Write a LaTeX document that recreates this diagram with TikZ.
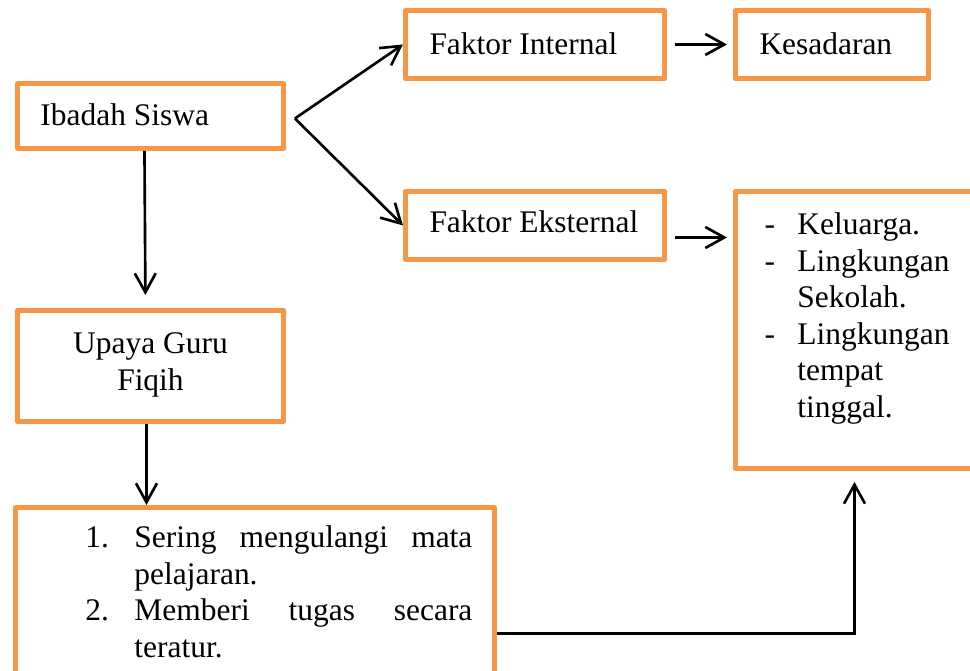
\documentclass[tikz,border=0pt]{standalone}
\usepackage{fontspec}
\setmainfont{Liberation Serif}
\usetikzlibrary{arrows.meta}
\definecolor{oranye}{HTML}{F79646}

\begin{document}
\begin{tikzpicture}[x=0.02cm, y=-0.02cm,
  kotak/.style={draw=oranye, line width=0.1cm, line join=round, anchor=north west,
    inner ysep=0pt, font=\fontsize{17.9}{20.8}\selectfont},
  panah/.style={line width=1.5pt, -{Straight Barb[length=3.8mm,width=4.2mm]}}]
  \useasboundingbox (0,0) rectangle (970,671);
  \clip (0,0) rectangle (970,671);
  \node[kotak, inner xsep=0.46cm, text width=4.4cm, align=flush left, text height=0.84cm, text depth=0.46cm] (ibadah) at (15,81) {Ibadah Siswa};
  \node[kotak, inner xsep=0.48cm, text width=4.22cm, align=flush left, text height=0.88cm, text depth=0.48cm] (internal) at (403,8) {Faktor Internal};
  \node[kotak, inner xsep=0.48cm, text width=2.9cm, align=flush left, text height=0.88cm, text depth=0.48cm] (kesadaran) at (733,8) {Kesadaran};
  \node[kotak, inner xsep=0.48cm, text width=4.22cm, align=flush left, text height=0.82cm, text depth=0.54cm] (eksternal) at (403,189) {Faktor~Eksternal};
  \node[kotak, inner xsep=0.58cm, text width=4.38cm, align=flush left, text height=0.86cm, text depth=4.68cm] (faktor) at (733,189)
    {\makebox[0.66cm][l]{-}Keluarga.\\
     \makebox[0.66cm][l]{-}Lingkungan\\
     \hspace*{0.66cm}Sekolah.\\
     \makebox[0.66cm][l]{-}Lingkungan\\
     \hspace*{0.66cm}tempat\\
     \hspace*{0.66cm}tinggal.};
  \node[kotak, inner xsep=0.46cm, text width=4.4cm, align=flush center, text height=0.86cm, text depth=1.36cm] (upaya) at (15,308) {Upaya Guru\\ Fiqih};
  \node[kotak, inner xsep=0.44cm, text height=0.8cm, text depth=4.24cm] (cara) at (13,505)
    {\begin{minipage}[t]{8.7cm}
     \tolerance=10000 \hyphenpenalty=10000 \leftskip=0.96cm \parindent=0pt
     \hangindent=0.98cm \hangafter=1 \makebox[0.98cm][l]{1.}Sering mengulangi mata pelajaran.\par
     \hangindent=0.98cm \hangafter=1 \makebox[0.98cm][l]{2.}Memberi tugas secara teratur.\par
     \end{minipage}};
  \coordinate (cabang) at ([xshift=0.18cm, yshift=-0.05cm]ibadah.east);
  \coordinate (e1) at ([yshift=-0.24cm]eksternal.east);
  \draw[panah] (cabang) -- (internal.west);
  \draw[panah] (cabang) -- (eksternal.west);
  \draw[panah, shorten <=0.16cm, shorten >=0.12cm] (internal.east) -- (kesadaran.west);
  \draw[panah, shorten <=0.16cm, shorten >=0.12cm] (e1) -- (e1 -| faktor.west);
  \draw[panah, shorten >=0.26cm] ([xshift=-0.12cm]ibadah.south) -- ([xshift=-0.1cm]upaya.north);
  \draw[panah] ([xshift=-0.08cm]upaya.south) -- ([xshift=-0.08cm]upaya.south |- cara.north);
  \draw[panah] (cara.east) -| ([xshift=-0.39cm, yshift=-0.22cm]faktor.south);
\end{tikzpicture}
\end{document}
